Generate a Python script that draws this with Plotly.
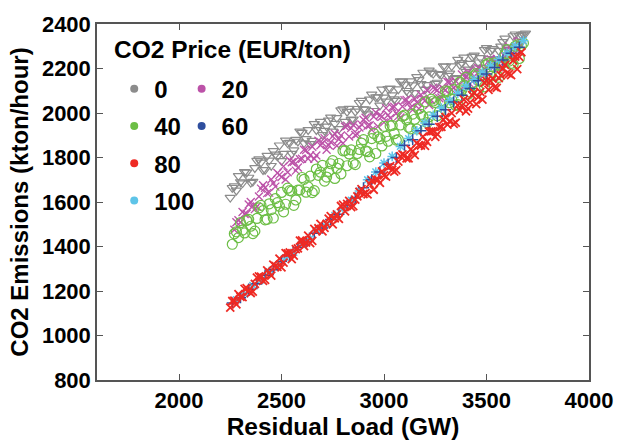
import plotly.graph_objects as go

# ---- data (estimated scatter cloud samples) ----
gray_x = [2250,2270,2290,2310,2330,2350,2370,2390,2410,2430,2450,2470,2490,2510,2530,2550,2570,2590,2610,2630,
          2650,2670,2690,2710,2730,2750,2770,2790,2810,2830,2850,2870,2890,2910,2930,2950,2970,2990,3010,3030,
          3050,3070,3090,3110,3130,3150,3170,3190,3210,3230,3250,3270,3290,3310,3330,3350,3370,3390,3410,3430,
          3450,3470,3490,3510,3530,3550,3570,3590,3610,3630,3650,3670,3690,
          2260,2280,2300,2320,2340,2360,2380,2400,2420,2440,2460,2480,2500,2520,2540,2560,2580,2600,2620,2640,
          2660,2680,2700,2720,2740,2760,2780,2800,2820,2840,2860,2880,2900,2920,2940,2960,2980,3000,3020,3040,
          3060,3080,3100,3120,3140,3160,3180,3200,3220,3240,3260,3280,3300,3320,3340,3360,3380,3400,3420,3440,
          3460,3480,3500,3520,3540,3560,3580,3600,3620,3640,3660,3680]
gray_y = [1620,1671,1717,1685,1733,1687,1753,1793,1744,1808,1763,1814,1855,1817,1865,1817,1880,1917,1865,1924,
          1876,1924,1961,1921,1967,1917,1978,2013,1961,2020,1972,2019,2056,2016,2061,2010,2071,2106,2052,2111,
          2062,2107,2142,2100,2143,2090,2149,2182,2126,2183,2132,2176,2211,2168,2211,2158,2217,2250,2196,2253,
          2202,2248,2284,2243,2288,2237,2299,2335,2284,2346,2300,2351,2358,
          1664,1652,1690,1735,1710,1692,1786,1778,1745,1787,1830,1805,1785,1877,1867,1833,1872,1912,1884,1861,
          1951,1939,1902,1940,1980,1952,1929,2018,2006,1969,2007,2046,2017,1995,2084,2071,2034,2070,2109,2080,
          2056,2143,2128,2090,2125,2162,2131,2105,2192,2177,2137,2172,2209,2178,2153,2240,2225,2186,2222,2259,
          2228,2204,2293,2280,2243,2280,2320,2292,2282,2354,2347,2354]

mag_x = [2270,2290,2310,2330,2350,2370,2390,2410,2430,2450,2470,2490,2510,2530,2550,2570,2590,2610,2630,2650,
         2670,2690,2710,2730,2750,2770,2790,2810,2830,2850,2870,2890,2910,2930,2950,2970,2990,3010,3030,3050,
         3070,3090,3110,3130,3150,3170,3190,3210,3230,3250,3270,3290,3310,3330,3350,3370,3390,3410,3430,3450,
         3470,3490,3510,3530,3550,3570,3590,3610,3630,3650,3670,
         2280,2300,2320,2340,2360,2380,2400,2420,2440,2460,2480,2500,2520,2540,2560,2580,2600,2620,2640,2660,
         2680,2700,2720,2740,2760,2780,2800,2820,2840,2860,2880,2900,2920,2940,2960,2980,3000,3020,3040,3060,
         3080,3100,3120,3140,3160,3180,3200,3220,3240,3260,3280,3300,3320,3340,3360,3380,3400,3420,3440,3460,
         3480,3500,3520,3540,3560,3580,3600,3620,3640,3660]
mag_y = [1475,1518,1555,1547,1600,1568,1625,1675,1640,1701,1669,1722,1760,1734,1779,1741,1792,1835,1794,1848,
         1809,1855,1887,1855,1895,1853,1899,1938,1894,1946,1905,1949,1979,1945,1983,1939,1984,2022,1977,2028,
         1986,2029,2059,2025,2063,2019,2064,2102,2057,2108,2066,2109,2139,2105,2144,2101,2147,2186,2142,2195,
         2155,2200,2233,2202,2244,2205,2255,2299,2261,2320,2302,
         1509,1509,1546,1589,1582,1580,1660,1664,1642,1685,1730,1712,1701,1787,1781,1755,1794,1833,1810,1794,
         1875,1865,1835,1870,1907,1882,1864,1943,1932,1901,1935,1970,1943,1924,2002,1990,1958,1991,2026,1999,
         1980,2058,2046,2014,2047,2082,2055,2036,2114,2102,2070,2103,2138,2112,2094,2173,2162,2131,2165,2202,
         2177,2161,2242,2233,2206,2244,2284,2264,2257,2324]

green_x = [2260,2280,2300,2320,2340,2360,2380,2400,2420,2440,2460,2480,2500,2520,2540,2560,2580,2600,2620,2640,
           2660,2680,2700,2720,2740,2760,2780,2800,2820,2840,2860,2880,2900,2920,2940,2960,2980,3000,3020,3040,
           3060,3080,3100,3120,3140,3160,3180,3200,3220,3240,3260,3280,3300,3320,3340,3360,3380,3400,3420,3440,
           3460,3480,3500,3520,3540,3560,3580,3600,3620,3640,3660,3680,
           2270,2290,2310,2330,2350,2370,2390,2410,2430,2450,2470,2490,2510,2530,2550,2570,2590,2610,2630,2650,
           2670,2690,2710,2730,2750,2770,2790,2810,2830,2850,2870,2890,2910,2930,2950,2970,2990,3010,3030,3050,
           3070,3090,3110,3130,3150,3170,3190,3210,3230,3250,3270,3290,3310,3330,3350,3370,3390,3410,3430,3450,
           3470,3490,3510,3530,3550,3570,3590,3610,3630,3650,3670]
green_y = [1410,1466,1507,1461,1522,1458,1526,1585,1520,1592,1528,1597,1643,1590,1651,1585,1653,1710,1644,1716,
           1651,1720,1765,1712,1772,1706,1773,1830,1763,1834,1768,1836,1880,1826,1885,1818,1884,1940,1873,1944,
           1878,1946,1990,1936,1995,1928,1994,2050,1983,2054,1988,2056,2100,2046,2105,2038,2104,2160,2094,2167,
           2102,2172,2217,2165,2225,2160,2227,2285,2223,2300,2245,2314,
           1457,1440,1474,1517,1491,1469,1574,1561,1522,1566,1615,1581,1556,1662,1649,1609,1654,1702,1668,1642,
           1748,1734,1694,1738,1786,1752,1726,1831,1816,1775,1818,1865,1830,1803,1908,1893,1852,1895,1942,1907,
           1880,1985,1970,1929,1972,2019,1984,1957,2062,2047,2006,2049,2096,2061,2034,2139,2124,2084,2128,2177,
           2143,2118,2224,2211,2171,2216,2264,2233,2219,2306,2303]

cyan_x = [2280,2320,2360,2400,2440,2480,2520,2560,2600,2640,2680,2720,2760,2800,2840,2880,2920,2960,3000,3040,
          3080,3120,3160,3200,3240,3280,3320,3360,3400,3440,3480,3520,3560,3600,3640,3680]
cyan_y = [1161,1186,1225,1249,1287,1311,1350,1374,1412,1436,1476,1499,1540,1570,1608,1650,1700,1735,1775,1805,
          1850,1885,1920,1955,1990,2022,2055,2088,2120,2150,2182,2212,2240,2270,2300,2325]

blue_x = [2260,2300,2340,2380,2420,2460,2500,2540,2580,2620,2660,2700,2740,2780,2820,2860,2900,2940,2980,3020,
          3060,3100,3140,3180,3220,3260,3300,3340,3380,3420,3460,3500,3540,3580,3620,3660]
blue_y = [1146,1170,1208,1233,1271,1296,1334,1358,1396,1420,1459,1483,1521,1545,1585,1618,1664,1700,1735,1770,
          1800,1855,1880,1920,1950,1985,2015,2050,2080,2110,2145,2175,2205,2238,2268,2295]

red_x = [2250,2270,2290,2310,2330,2350,2370,2390,2410,2430,2450,2470,2490,2510,2530,2550,2570,2590,2610,2630,
         2650,2670,2690,2710,2730,2750,2770,2790,2810,2830,2850,2870,2890,2910,2930,2950,2970,2990,3010,3030,
         3050,3070,3090,3110,3130,3150,3170,3190,3210,3230,3250,3270,3290,3310,3330,3350,3370,3390,3410,3430,
         3450,3470,3490,3510,3530,3550,3570,3590,3610,3630,3650,3670,
         2260,2280,2300,2320,2340,2360,2380,2400,2420,2440,2460,2480,2500,2520,2540,2560,2580,2600,2620,2640,
         2660,2680,2700,2720,2740,2760,2780,2800,2820,2840,2860,2880,2900,2920,2940,2960,2980,3000,3020,3040,
         3060,3080,3100,3120,3140,3160,3180,3200,3220,3240,3260,3280,3300,3320,3340,3360,3380,3400,3420,3440,
         3460,3480,3500,3520,3540,3560,3580,3600,3620,3640,3660]
red_y = [1125,1157,1186,1172,1213,1191,1232,1266,1246,1293,1269,1313,1346,1328,1369,1343,1388,1426,1402,1449,
         1425,1469,1502,1484,1525,1499,1544,1582,1558,1605,1581,1625,1658,1640,1681,1655,1700,1738,1714,1761,
         1737,1781,1814,1796,1837,1811,1856,1894,1870,1917,1893,1937,1970,1948,1999,1957,2013,2060,2020,2080,
         2040,2095,2136,2104,2155,2113,2169,2216,2176,2236,2197,2273,
         1155,1140,1174,1210,1199,1197,1260,1264,1250,1283,1319,1308,1306,1370,1373,1359,1392,1428,1418,1415,
         1479,1482,1468,1502,1537,1527,1524,1588,1592,1577,1611,1646,1636,1634,1697,1701,1686,1720,1756,1745,
         1743,1806,1810,1796,1829,1865,1854,1852,1916,1919,1905,1938,1982,1962,1951,2035,2033,2007,2048,2091,
         2071,2060,2144,2143,2116,2157,2200,2180,2170,2253,2252]

labels = ["0", "20", "40", "60", "80", "100"]
legend_title = "CO2 Price (EUR/ton)"
colors = ["#8C8C8C", "#BC52A8", "#6CBE45", "#2E4E9E", "#EE2A24", "#5EC4E8"]
symbols = ["triangle-down-open", "x-thin-open", "circle-open", "cross-thin-open", "x-thin-open", "asterisk-open"]
xs = [gray_x, mag_x, green_x, blue_x, red_x, cyan_x]
ys = [gray_y, mag_y, green_y, blue_y, red_y, cyan_y]
sizes = [9, 8, 10, 8, 8, 8]
widths = [1.2, 1.3, 1.2, 1.5, 1.8, 1.5]

FONT = "Liberation Sans, Arial, sans-serif"
fig = go.Figure()

draw_order = [0, 1, 2, 5, 3, 4]
for i in draw_order:
    fig.add_trace(go.Scatter(
        x=xs[i], y=ys[i], mode="markers", showlegend=False,
        marker=dict(symbol=symbols[i], size=sizes[i], color=colors[i],
                    line=dict(width=widths[i], color=colors[i]))))

# legend entries (dots), split into two columns like the reference
legend_of = {"0": "legend", "40": "legend", "80": "legend", "100": "legend",
             "20": "legend2", "60": "legend2"}
for i, lab in enumerate(labels):
    fig.add_trace(go.Scatter(
        x=[None], y=[None], mode="markers", name=lab, legend=legend_of[lab],
        legendgroup=lab,
        marker=dict(symbol="circle", size=8, color=colors[i])))

axis_common = dict(showline=True, linecolor="#555555", linewidth=1.5, mirror="ticks",
                   ticks="inside", ticklen=6, tickwidth=1.2, tickcolor="#555555",
                   showgrid=False, zeroline=False,
                   tickfont=dict(family=FONT, size=22, color="black", weight="bold"))

legend_font = dict(family=FONT, size=24, color="black", weight="bold")

fig.update_layout(
    width=625, height=446,
    margin=dict(l=97, r=26, t=22, b=63),
    paper_bgcolor="white", plot_bgcolor="white",
    xaxis=dict(range=[1600, 4000], tickvals=[2000, 2500, 3000, 3500, 4000],
               title=dict(text="Residual Load (GW)", standoff=4,
                          font=dict(family=FONT, size=24.5, color="black", weight="bold")),
               **axis_common),
    yaxis=dict(range=[800, 2400], tickvals=[800, 1000, 1200, 1400, 1600, 1800, 2000, 2200, 2400],
               title=dict(text="CO2 Emissions (kton/hour)", standoff=6,
                          font=dict(family=FONT, size=24, color="black", weight="bold")),
               **axis_common),
    legend=dict(x=0.035, y=0.88, xanchor="left", yanchor="top", bgcolor="rgba(0,0,0,0)",
                font=legend_font, tracegroupgap=3, itemsizing="trace"),
    legend2=dict(x=0.172, y=0.88, xanchor="left", yanchor="top", bgcolor="rgba(0,0,0,0)",
                 font=legend_font, tracegroupgap=3, itemsizing="trace"),
    annotations=[dict(text=legend_title, x=0.03, y=0.928, xref="paper", yref="paper",
                      xanchor="left", yanchor="middle", showarrow=False,
                      font=dict(family=FONT, size=24.5, color="black", weight="bold"))],
)

fig.write_html("out.html")
